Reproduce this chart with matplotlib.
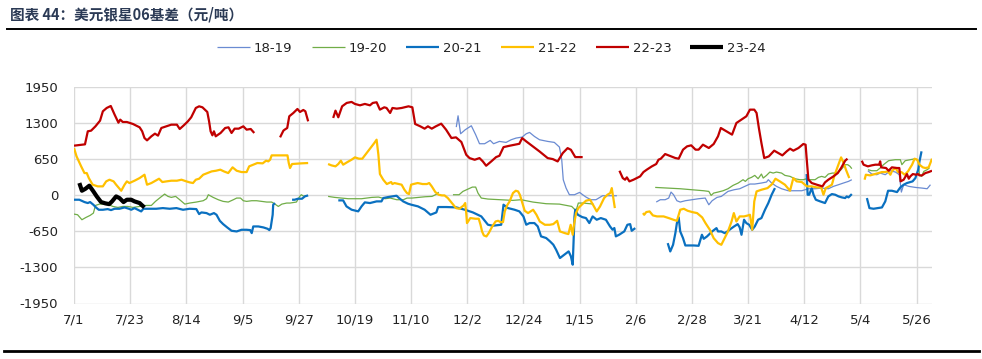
import numpy as np
import matplotlib
matplotlib.use("Agg")
import matplotlib.pyplot as plt

nan = float("nan")

# x = days since 7/1 ; NaN in values marks a gap
tick_days = [0, 22, 44, 66, 88, 110, 132, 154, 176, 198, 220, 242, 264, 286, 308, 330]
tick_labels = ["7/1", "7/23", "8/14", "9/5", "9/27", "10/19", "11/10", "12/2", "12/24",
               "1/15", "2/6", "2/28", "3/21", "4/12", "5/4", "5/26"]
y_ticks = [-1950, -1300, -650, 0, 650, 1300, 1950]

series_names = ["18-19", "19-20", "20-21", "21-22", "22-23", "23-24"]

d_1819 = [149.7, 150.4, 151.4, 153.2, 155.6, 157.3, 158.8, 160.8, 163.0, 164.3, 166.6, 169.2, 171.2, 173.1, 175.5,
          177.1, 178.4, 180.3, 182.3, 185.5, 188.1, 190.1, 191.0, 191.6, 192.7, 194.0, 196.0, 198.0, 199.2, 200.5,
          202.4, 204.4, 207.0, 212.6, 220,
          228.0, 229.6, 231.5, 232.9, 233.8, 234.8, 236.1, 237.4, 239.4, 242.0, 244.6, 247.2, 248.6, 249.9, 251.8,
          253.5, 256.1, 258.5, 260.7, 262.7, 264.7, 266.6, 269.2, 271.2, 271.9, 273.2, 275.1, 277.1, 279.7, 282.3,
          285.0, 287.6, 290.2, 292.8, 295.4, 297.4, 299.4, 301.3, 303.3, 304.6, 307,
          310.9, 312.4, 314.4, 315.7, 317.7, 319.7, 321.7, 323.2, 324.0, 324.9, 326.9, 329.5, 332.1, 334.1, 335.4]
v_1819 = [1232, 1436, 1112, 1184, 1256, 1094, 932, 932, 992, 932, 974, 956, 1004, 1034, 1052,
          1112, 1136, 1064, 1004, 974, 956, 872, 643, 282, 132, 12, 12, 54, 12, -30,
          -78, -78, -6, -6, nan,
          -120, -78, -78, -48, 60, 12, -96, -120, -96, -78, -60, -48, -169, -96, -36,
          -18, 72, 102, 120, 163, 205, 205, 223, 241, 283, 223, 163, 120, 84, 84,
          84, 120, 120, 132, 120, 163, 193, 223, 253, 283, nan,
          445, 385, 373, 403, 373, 445, 421, 373, 60, 193, 163, 144, 132, 120, 193]

d_1920 = [0, 1.4, 3.1, 4.7, 6.3, 7.6, 8.4, 10.0, 11.9, 13.6, 15.2, 17.2, 19.1, 21.1, 23.1, 25.7, 28.3, 30.3, 31.9,
          33.5, 35.5, 36.8, 38.1, 39.8, 41.4, 43.4, 45.3, 47.9, 50.6, 51.9, 52.6, 54.5, 56.5, 58.4, 60.4, 62.4,
          63.7, 65.2, 66.3, 67.6, 69.6, 71.5, 73.5, 75.5, 77.4, 78.7, 80.0, 81.4, 83.3, 84.6, 87.1, 88.4, 89.0,
          90.1, 91.0, 95,
          99.5, 102.1, 104.8, 107.4, 110, 112.6, 114.6, 116.6, 119.2, 121.8, 123.8, 126.4, 129.0, 130.4, 132.3,
          135.0, 137.6, 140.2, 142.1, 142.8, 145,
          148.4, 150.8, 152.3, 154.3, 156.0, 157.3, 158.2, 159.5, 162.1, 166.6, 171.8, 175.1, 179.7, 184.9, 190.1,
          194.9, 196.6, 197.5, 199.5, 203.4, 215,
          227.6, 232.2, 237.4, 242.0, 246.6, 248.6, 249.5, 250.5, 252.2, 254.2, 256.1, 258.1, 260.1, 262.0, 262.9,
          264.0, 265.3, 266.6, 267.9, 269.2, 269.9, 271.2, 272.5, 273.8, 275.1, 277.1, 278.4, 280.4, 282.3, 284.3,
          285.6, 286.9, 288.2, 290.2, 291.5, 292.8, 294.1, 295.4, 297.0, 298.7, 300.4, 302.0, 303.0, 303.9, 304.6,
          307,
          310.9, 312.4, 314.4, 315.7, 317.0, 319.0, 321.6, 323.6, 324.2, 325.5, 327.5, 329.5, 330.5, 331.1, 331.9,
          332.8, 334.1, 335.0]
v_1920 = [-337, -349, -439, -397, -361, -319, -181, -157, -157, -169, -199, -217, -199, -199, -217, -199, -181, -181, -108,
          -48, 24, -18, -36, -18, -78, -157, -138, -120, -96, -60, 12, -36, -78, -108, -120, -78,
          -48, -48, -96, -108, -96, -96, -108, -120, -120, -157, -199, -157, -138, -138, -120, -18, 12,
          -18, 0, nan,
          -18, -36, -48, -60, -60, -60, -48, -36, -30, -60, -48, -78, -78, -48, -48,
          -36, -24, -18, 24, 60, nan,
          12, 12, 72, 114, 150, 150, 42, -48, -66, -78, -90, -78, -120, -150, -157,
          -199, -277, -138, -138, -157, nan,
          144, 132, 120, 102, 84, 72, 0, 42, 60, 84, 120, 181, 223, 283, 253,
          301, 325, 361, 301, 385, 313, 361, 421, 403, 421, 403, 361, 343, 301, 283,
          283, 301, 283, 283, 325, 343, 325, 385, 403, 403, 464, 554, 554, 524, 482,
          nan,
          464, 445, 445, 494, 554, 626, 644, 644, 554, 626, 644, 662, 626, 373, 343,
          433, 464, 494]

d_2021 = [0, 2.1, 4.1, 5.4, 6.3, 7.6, 8.6, 9.7, 11.3, 13.2, 14.5, 15.9, 17.8, 19.8, 21.5, 22.4, 23.7, 25.0, 26.3,
          27.2, 29.6, 32.2, 34.8, 37.5, 40.1, 42.7, 45.3, 47.9, 49.0, 49.9, 51.9, 53.2, 54.8, 55.8, 57.1, 58.4,
          60.0, 61.7, 63.7, 65.6, 67.6, 69.0, 69.6, 70.2, 72.2, 74.2, 75.8, 76.5, 77.0, 77.8, 78.0, 78.7, 82,
          85.4, 86.4, 87.7, 89.3, 90.4, 91.7, 97,
          103.5, 105.4, 106.7, 108.7, 111.3, 112.6, 113.9, 115.9, 118.5, 120.4, 121.1, 123.0, 124.7, 126.3, 127.3,
          128.9, 130.8, 132.1, 134.7, 137.3, 139.6, 141.9, 142.6, 145.8, 149.7, 153.0, 156.2, 159.5, 162.1, 164.0,
          167.3, 168.2, 169.9, 172.5, 174.4, 176.0, 177.1, 178.4, 180.3, 181.6, 182.9, 184.9, 186.4, 187.7, 188.8,
          190.3, 192.0, 193.7, 194.6, 195.3, 196.0, 196.3, 197.3, 199.0, 200.5, 201.8, 203.1, 204.7, 206.3, 208.3,
          209.9, 210.9, 211.6, 212.2, 213.5, 215.5, 216.7, 217.8, 218.4, 219.8, 226,
          232.5, 233.5, 234.6, 235.5, 236.1, 236.8, 237.4, 238.5, 239.4, 240.7, 242.7, 244.6, 245.3, 245.9, 246.6,
          247.9, 249.9, 251.6, 252.2, 253.5, 254.8, 255.9, 257.2, 258.5, 259.9, 260.7, 261.4, 262.4, 263.3, 264.4,
          265.6, 266.6, 267.9, 269.2, 270.6, 271.9, 273.2, 274.5, 280,
          286.9, 287.3, 287.9, 288.9, 289.6, 290.5, 292.2, 294.1, 295.4, 296.8, 298.1, 299.4, 300.7, 302.0, 302.6,
          303.3, 304.6, 307,
          310.5, 311.5, 313.1, 314.8, 316.4, 317.7, 318.8, 320.3, 322.3, 323.6, 324.9, 326.2, 327.5, 328.4, 329.5,
          330.6, 331.1, 331.9]
v_2021 = [-78, -78, -120, -138, -120, -169, -217, -259, -259, -247, -265, -241, -241, -217, -241, -259, -229, -259, -289,
          -241, -241, -241, -229, -241, -229, -259, -241, -247, -337, -307, -319, -349, -319, -349, -458, -518,
          -578, -638, -650, -620, -620, -626, -680, -560, -560, -578, -602, -626, -590, -349, -169, -138, nan,
          -78, -78, -60, -60, -18, 0, nan,
          -90, -90, -198, -258, -288, -198, -126, -138, -108, -108, -48, -30, -18, -6, -48,
          -108, -150, -168, -198, -258, -349, -307, -210, -210, -216, -258, -307, -379, -529, -547,
          -529, -168, -228, -258, -288, -379, -529, -499, -499, -559, -739, -769, -829, -889, -980,
          -1130, -1070, -1010, -1100, -1250, -379, -258, -349, -391, -409, -499, -379, -439, -409, -439,
          -559, -619, -589, -739, -709, -649, -530, -518, -638, -590, nan,
          -861, -1011, -891, -680, -500, -397, -650, -771, -903, -903, -903, -909, -801, -710, -783,
          -740, -650, -590, -650, -650, -680, -650, -602, -560, -518, -578, -710, -439, -500, -530,
          -620, -560, -439, -409, -259, -138, 12, 132, nan,
          385, 12, 12, 132, 12, -78, -108, -138, -18, 24, 12, -18, -36, -48, -18,
          -36, 24, nan,
          -48, -229, -241, -229, -217, -108, 84, 84, 60, 144, 193, 223, 241, 253, 313,
          464, 614, 795]

d_2122 = [0, 1.0, 2.8, 4.1, 5.0, 5.8, 7.3, 9.3, 11.3, 12.6, 13.9, 15.5, 16.5, 18.5, 19.8, 20.7, 21.7, 23.7, 25.7,
          27.6, 28.6, 30.3, 31.9, 33.3, 34.6, 36.2, 38.1, 40.3, 42.1, 44.0, 45.3, 46.6, 47.7, 49.0, 50.6, 52.2,
          53.9, 55.6, 57.3, 58.7, 60.4, 62.1, 63.7, 65.6, 67.6, 68.6, 70.2, 71.8, 73.9, 75.2, 76.1, 76.8, 77.4,
          79.4, 82.0, 83.6, 84.1, 84.6, 85.4, 87.1, 89.0, 91.7, 95,
          99.5, 100.8, 102.4, 103.5, 104.5, 105.4, 107.1, 108.7, 110.0, 111.6, 112.9, 114.6, 116.3, 117.6, 118.5,
          119.2, 119.8, 121.1, 122.5, 124.2, 124.7, 125.5, 127.3, 128.3, 129.4, 130.4, 131.2, 132.0, 132.9, 134.6,
          136.5, 138.2, 139.1, 140.1, 141.5, 142.8, 144.1, 145.1, 146.4, 148.0, 149.6, 150.9, 152.6, 153.2, 153.6,
          153.9, 155.2, 157.2, 158.5, 159.2, 159.8, 160.5, 161.5, 162.4, 163.8, 165.1, 166.1, 167.0, 168.0, 168.7,
          169.6, 170.6, 171.9, 173.0, 173.9, 174.6, 175.6, 176.5, 177.8, 179.8, 181.1, 182.4, 184.4, 186.3, 187.7,
          189.2, 190.3, 192.2, 193.6, 194.5, 195.3, 195.8, 196.6, 197.5, 198.8, 200.5, 202.1, 203.4, 204.7, 206.0,
          207.6, 208.9, 210.0, 210.6, 211.0, 211.8, 217,
          222.8, 223.3, 224.1, 225.4, 226.7, 228.3, 230.9, 232.9, 234.8, 236.1, 237.4, 238.8, 240.3, 242.1, 244.0,
          246.0, 247.3, 249.0, 250.5, 252.2, 253.5, 254.8, 256.1, 257.5, 258.4, 259.4, 260.7, 262.4, 264.0, 264.7,
          265.6, 266.4, 267.3, 269.2, 271.6, 273.4, 274.7, 276.4, 278.4, 280.4, 281.7, 283.0, 285.0, 287.0, 288.9,
          290.9, 292.6, 293.5, 294.4, 295.7, 296.8, 297.8, 299.1, 300.4, 301.4, 302.3, 303.6, 306,
          309.6, 310.1, 311.8, 313.6, 315.1, 316.4, 317.5, 318.8, 319.7, 320.4, 321.7, 322.7, 324.0, 325.3, 326.6,
          328.2, 329.2, 330.2, 331.1, 332.4, 333.4, 334.7, 336.0]
v_2122 = [855, 704, 524, 403, 403, 313, 193, 163, 163, 253, 283, 253, 193, 84, 193, 253, 223, 265, 313,
          373, 193, 223, 265, 301, 241, 253, 265, 265, 283, 253, 235, 223, 283, 301, 373, 403,
          433, 445, 464, 433, 403, 506, 445, 421, 421, 524, 554, 584, 578, 626, 614, 644, 722,
          722, 722, 722, 584, 494, 566, 572, 578, 584, nan,
          566, 542, 524, 566, 626, 554, 602, 644, 686, 662, 662, 765, 867, 945, 1005,
          734, 385, 283, 205, 241, 205, 223, 205, 193, 102, 42, 24, 193, 205, 223,
          205, 205, 223, 163, 60, 12, 0, 0, -48, -138, -229, -241, -181, -138, -319,
          -500, -409, -421, -421, -530, -650, -722, -740, -680, -560, -470, -458, -482, -482, -289,
          -181, -108, 42, 84, 72, 12, -138, -277, -319, -259, -349, -470, -530, -530, -518,
          -458, -650, -680, -698, -530, -710, -530, -319, -229, -169, -96, -78, -181, -289, -199,
          -48, 12, 42, 132, 12, -229, nan,
          -319, -349, -301, -289, -361, -379, -379, -409, -440, -458, -259, -241, -277, -301, -319,
          -397, -500, -620, -771, -861, -891, -771, -650, -470, -319, -470, -379, -379, -361, -349,
          -620, -108, 72, 102, 132, 205, 301, 253, 193, 84, 313, 253, 241, 163, 163,
          144, 144, 12, 132, 163, 193, 361, 524, 686, 584, 464, 313, nan,
          283, 373, 361, 385, 403, 421, 421, 433, 373, 445, 494, 421, 421, 373, 433,
          554, 662, 644, 554, 506, 494, 506, 662]

d_2223 = [0, 4.3, 5.4, 6.7, 8.4, 10.2, 11.3, 12.8, 14.4, 15.9, 17.4, 18.1, 19.1, 20.7, 23.1, 25.7, 26.7, 27.6, 28.6,
          30.3, 31.7, 32.9, 34.2, 36.2, 38.1, 40.3, 41.4, 43.0, 44.6, 45.9, 47.7, 49.0, 50.3, 52.2, 52.9, 53.5,
          54.2, 54.8, 55.5, 57.4, 59.2, 60.5, 61.7, 62.9, 64.5, 66.3, 67.6, 69.2, 70.6, 75,
          80.7, 82.0, 82.5, 83.5, 84.3, 85.9, 87.5, 88.5, 89.8, 90.6, 91.7, 96,
          101.5, 102.4, 103.5, 105.0, 106.8, 108.7, 110, 112.0, 113.9, 115.9, 117.0, 118.5, 119.8, 121.5, 122.4,
          123.8, 124.7, 126.4, 128.3, 131.0, 132.5, 133.6, 135.6, 137.3, 138.6, 140.1, 141.7, 143.8, 145.7, 147.8,
          149.6, 151.7, 153.6, 154.9, 156.9, 158.8, 160.1, 161.4, 163.4, 165.3, 166.6, 168.2, 170.5, 174.4, 175.5,
          177.1, 179.7, 182.3, 185.5, 187.5, 189.4, 191.4, 193.3, 194.6, 196.3, 199.2, 205,
          213.6, 214.9, 215.8, 216.5, 217.5, 219.1, 221.7, 223.0, 224.3, 226.3, 228.0, 228.9, 229.8, 231.5, 233.5,
          235.5, 236.8, 238.5, 240.1, 241.7, 243.4, 244.6, 246.3, 248.6, 250.5, 252.2, 253.3, 255.5, 257.7, 259.4,
          261.4, 263.3, 264.7, 266.4, 267.3, 268.2, 269.2, 270.3, 272.1, 274.2, 275.8, 277.4, 279.1, 280.4, 281.7,
          283.7, 285.6, 286.5, 286.9, 287.6, 288.9, 290.9, 293.1, 294.1, 295.4, 297.4, 299.1, 300.4, 302.0, 302.9,
          306,
          308.5, 309.2, 310.9, 312.4, 313.8, 315.3, 315.7, 316.1, 318.0, 319.0, 320.3, 322.3, 323.2, 323.7, 324.9,
          326.2, 326.9, 327.5, 328.5, 329.8, 330.5, 331.1, 332.1, 333.4, 334.7, 336.0]
v_2223 = [897, 921, 1156, 1168, 1246, 1348, 1517, 1577, 1613, 1457, 1312, 1367, 1324, 1324, 1288, 1228, 1156, 1035, 993,
          1066, 1114, 1078, 1216, 1246, 1276, 1276, 1198, 1264, 1336, 1409, 1577, 1607, 1589, 1505, 1336, 1156,
          1084, 1156, 1066, 1126, 1216, 1228, 1126, 1204, 1204, 1246, 1186, 1198, 1126, nan,
          1047, 1168, 1186, 1216, 1427, 1487, 1559, 1505, 1541, 1517, 1336, nan,
          1397, 1529, 1409, 1607, 1668, 1686, 1650, 1625, 1650, 1625, 1668, 1680, 1547, 1589, 1577,
          1487, 1577, 1565, 1577, 1607, 1589, 1288, 1246, 1204, 1246, 1204, 1246, 1294, 1186, 1035,
          1047, 963, 733, 673, 643, 673, 613, 535, 613, 691, 715, 871, 895, 931, 1034,
          974, 883, 793, 673, 655, 613, 763, 853, 823, 691, 691, nan,
          445, 313, 283, 325, 253, 283, 343, 421, 464, 524, 566, 644, 662, 746, 710,
          674, 662, 825, 885, 903, 825, 825, 915, 855, 927, 1066, 1216, 1156, 1096, 1306,
          1367, 1427, 1547, 1547, 1487, 1216, 945, 674, 704, 807, 765, 722, 795, 843, 807,
          855, 927, 915, 674, 283, 223, 193, 163, 235, 283, 343, 403, 494, 626, 662,
          nan,
          626, 554, 524, 542, 554, 554, 614, 506, 494, 445, 506, 494, 494, 253, 283,
          385, 301, 343, 385, 373, 385, 361, 361, 403, 421, 445]

d_2324 = [2.1, 3.1, 4.5, 6.0, 7.6, 8.9, 10.6, 12.3, 13.8, 14.9, 16.5, 17.8, 19.4, 20.7, 22.4, 23.7, 25.7, 26.7, 27.6]
v_2324 = [223, 84, 120, 175, 72, -18, -120, -144, -157, -108, -18, -48, -120, -78, -78, -108, -138, -181, -217]

plt.rcParams["font.family"] = ["DejaVu Sans"]
plt.rcParams["axes.unicode_minus"] = False

W, H = 982, 359
fig = plt.figure(figsize=(W / 100, H / 100), dpi=100)
ax = fig.add_axes([74 / W, 1 - 303.5 / H, (932 - 74) / W, (303.5 - 87.3) / H])

styles = [
    ("#6A8BD2", 0.9, d_1819, v_1819),
    ("#70AD47", 0.9, d_1920, v_1920),
    ("#0A70C0", 1.6, d_2021, v_2021),
    ("#FFC000", 1.6, d_2122, v_2122),
    ("#C00000", 1.6, d_2223, v_2223),
    ("#000000", 3.0, d_2324, v_2324),
]
handles = []
for name, (c, lw, d, v) in zip(series_names, styles):
    h, = ax.plot(d, np.array(v, dtype=float), color=c, lw=lw, label=name,
                 solid_joinstyle="round", solid_capstyle="butt")
    handles.append(h)

ax.set_xlim(0, 336)
ax.set_ylim(-1950, 1950)
ax.set_xticks(tick_days)
ax.set_xticklabels(tick_labels)
ax.set_yticks(y_ticks)
ax.grid(True, color="#D9D9D9", lw=1.0)
ax.set_axisbelow(True)
for s in ax.spines.values():
    s.set_visible(False)
ax.tick_params(axis="both", length=0, labelsize=9.5, colors="#222222")
ax.tick_params(axis="y", pad=11.5)
ax.tick_params(axis="x", pad=7)

fig.legend(handles=handles, labels=series_names, loc="center", ncol=6,
           bbox_to_anchor=(491.5 / W, 1 - 48 / H), frameon=False, fontsize=9.5,
           handlelength=2.5, handletextpad=0.3, columnspacing=1.45, labelcolor="#222222")

fig.text(10 / W, 1 - 14 / H, "图表 44：美元银星06基差（元/吨）", fontsize=10.5, fontweight="bold",
         color="#2B3A55", ha="left", va="center", family=["Noto Sans CJK SC", "DejaVu Sans"])

fig.add_artist(plt.Line2D([7 / W, 976 / W], [1 - 29.3 / H, 1 - 29.3 / H], color="black", lw=1.4,
                          transform=fig.transFigure))
fig.add_artist(plt.Line2D([4 / W, 979 / W], [1 - 351 / H, 1 - 351 / H], color="black", lw=2.0,
                          transform=fig.transFigure))

fig.savefig("out.png", dpi=100)
